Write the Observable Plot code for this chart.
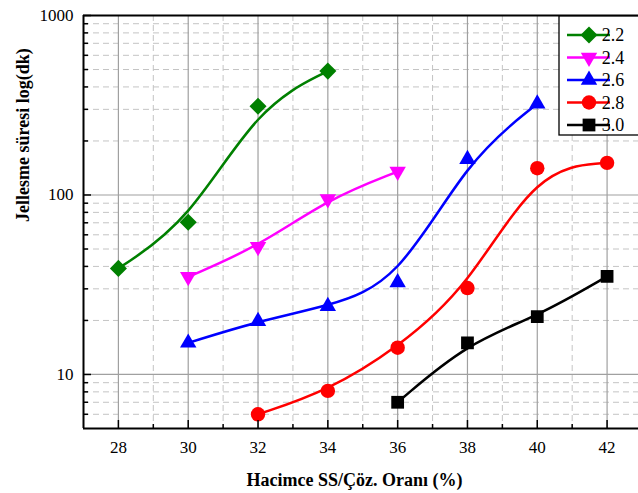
<!DOCTYPE html>
<html>
<head>
<meta charset="utf-8">
<script src="https://cdn.jsdelivr.net/npm/d3@7"></script>
<script src="https://cdn.jsdelivr.net/npm/@observablehq/plot@0.6"></script>
<style>
  html, body { margin: 0; padding: 0; overflow: hidden; background: #fff; }
  #chart svg text { font-family: "Liberation Serif", "Times New Roman", serif; }
</style>
</head>
<body>
<div id="chart"></div>
<script>
// Gelation time vs. SS/solution volume ratio for five modulus values
const seriesNames = ["2.2", "2.4", "2.6", "2.8", "3.0"];
const seriesColors = ["#008000", "#ff00ff", "#0000ff", "#ff0000", "#000000"];

const x22 = [28, 30, 32, 34];
const y22 = [39, 70.5, 312, 490];
const x24 = [30, 32, 34, 36];
const y24 = [35, 51.5, 95, 135];
const x26 = [30, 32, 34, 36, 38, 40];
const y26 = [15, 19.8, 24, 32.5, 158, 322];
const x28 = [32, 34, 36, 38, 40, 42];
const y28 = [6, 8.1, 14.1, 30.3, 141, 151];
const x30 = [36, 38, 40, 42];
const y30 = [7, 15, 21, 35.2];

const xTicks = [28, 30, 32, 34, 36, 38, 40, 42];
const xMinorTicks = [29, 31, 33, 35, 37, 39, 41];
const yTicks = [10, 100, 1000];
const yMinorTicks = [6, 7, 8, 9, 20, 30, 40, 50, 60, 70, 80, 90, 200, 300, 400, 500, 600, 700, 800, 900];

const xTitle = "Hacimce SS/Çöz. Oranı (%)";
const yTitle = "Jellesme süresi log(dk)";

const serif = "Liberation Serif, Times New Roman, serif";

// custom marker shapes
const sqrt3 = Math.sqrt(3);
const diamondSym = {
  draw(ctx, size) {
    const h = Math.sqrt(size) / Math.SQRT2;
    ctx.moveTo(0, -h); ctx.lineTo(h, 0); ctx.lineTo(0, h); ctx.lineTo(-h, 0); ctx.closePath();
  }
};
const triDownSym = {
  draw(ctx, size) {
    const y = Math.sqrt(size / (sqrt3 * 3));
    ctx.moveTo(0, y * 2); ctx.lineTo(-sqrt3 * y, -y); ctx.lineTo(sqrt3 * y, -y); ctx.closePath();
  }
};
const triUpSym = {
  draw(ctx, size) {
    const y = -Math.sqrt(size / (sqrt3 * 3));
    ctx.moveTo(0, y * 2); ctx.lineTo(-sqrt3 * y, -y); ctx.lineTo(sqrt3 * y, -y); ctx.closePath();
  }
};
const seriesSymbols = [diamondSym, triDownSym, triUpSym, "circle", "square"];
const seriesR = [6.8, 6.1, 6.1, 7.2, 7.2];

const seriesX = [x22, x24, x26, x28, x30];
const seriesY = [y22, y24, y26, y28, y30];
const series = seriesNames.map((name, k) => ({
  name,
  color: seriesColors[k],
  symbol: seriesSymbols[k],
  r: seriesR[k],
  rows: seriesX[k].map((x, i) => ({series: name, x, y: seriesY[k][i]}))
}));

const W = 638, H = 493, mL = 83, mR = 0, mT = 15, mB = 65;
const frameW = W - mL - mR, frameH = H - mT - mB;

const gridSolid = "#a0a0a0", gridDash = "#c4c4c4";

const chart = Plot.plot({
  width: W, height: H,
  marginLeft: mL, marginRight: mR, marginTop: mT, marginBottom: mB,
  x: {domain: [27, 42.9]},
  y: {type: "log", domain: [5, 1000]},
  style: {fontFamily: serif, fontSize: "17px", color: "#000", background: "#fff"},
  marks: [
    // grid
    Plot.ruleX(xMinorTicks, {x: d => d, stroke: gridDash, strokeWidth: 1, strokeDasharray: "6,4"}),
    Plot.ruleY(yMinorTicks, {y: d => d, stroke: gridDash, strokeWidth: 1, strokeDasharray: "6,4"}),
    Plot.ruleX(xTicks, {x: d => d, stroke: gridSolid, strokeWidth: 1.2}),
    Plot.ruleY(yTicks.slice(0, 2), {y: d => d, stroke: gridSolid, strokeWidth: 1.2}),

    // smoothed curves and markers
    ...series.map(s => Plot.line(s.rows, {x: "x", y: "y", stroke: s.color, strokeWidth: 2.5, curve: "basis"})),
    ...series.map(s => Plot.dot(s.rows, {x: "x", y: "y", symbol: s.symbol, r: s.r, fill: s.color, stroke: "none"})),

    // frame edges
    Plot.ruleX([27], {x: d => d, stroke: "#000", strokeWidth: 2}),
    Plot.ruleY([5, 1000], {y: d => d, stroke: "#000", strokeWidth: 2}),

    // inward ticks
    Plot.tickX(xTicks, {x: d => d, insetTop: frameH - 8, stroke: "#000", strokeWidth: 1.5}),
    Plot.tickX(xMinorTicks, {x: d => d, insetTop: frameH - 4, stroke: "#000", strokeWidth: 1.5}),
    Plot.tickY(yTicks, {y: d => d, insetRight: frameW - 8, stroke: "#000", strokeWidth: 1.5}),
    Plot.tickY(yMinorTicks, {y: d => d, insetRight: frameW - 5, stroke: "#000", strokeWidth: 1.5}),

    // tick labels
    Plot.axisX(xTicks, {tickSize: 0, tickPadding: 12, label: null, fontSize: 17, fontFamily: serif}),
    Plot.axisY(yTicks, {tickSize: 0, tickPadding: 10, label: null, fontSize: 17, fontFamily: serif, tickFormat: d => String(d)}),

    // axis titles
    Plot.text([xTitle], {frameAnchor: "bottom", dx: -6.5, dy: 52, lineAnchor: "middle", fontWeight: "bold", fontSize: 18, fontFamily: serif}),
    Plot.text([yTitle], {frameAnchor: "left", dx: -60, rotate: -90, lineAnchor: "middle", fontWeight: "bold", fontSize: 18, fontFamily: serif})
  ]
});

document.getElementById("chart").appendChild(chart);

// legend box in the upper-right corner
const svg = d3.select(chart);
const lg = svg.append("g").attr("font-family", serif).attr("font-size", 18);
lg.append("rect")
  .attr("x", 559).attr("y", 16).attr("width", 90).attr("height", 119)
  .attr("fill", "#fff").attr("stroke", "#000").attr("stroke-width", 1.3);
series.forEach((s, i) => {
  const cy = 35 + i * 22.5;
  lg.append("line").attr("x1", 567).attr("x2", 610).attr("y1", cy).attr("y2", cy)
    .attr("stroke", s.color).attr("stroke-width", 2.5);
  const symType = typeof s.symbol === "string" ? (s.symbol === "circle" ? d3.symbolCircle : d3.symbolSquare) : s.symbol;
  lg.append("path")
    .attr("transform", `translate(589,${cy})`)
    .attr("d", d3.symbol().type(symType).size(Math.PI * s.r * s.r)())
    .attr("fill", s.color);
  lg.append("text").attr("x", 613).attr("y", cy).attr("dy", "0.34em").attr("fill", "#000").text(s.name);
});
</script>
</body>
</html>
